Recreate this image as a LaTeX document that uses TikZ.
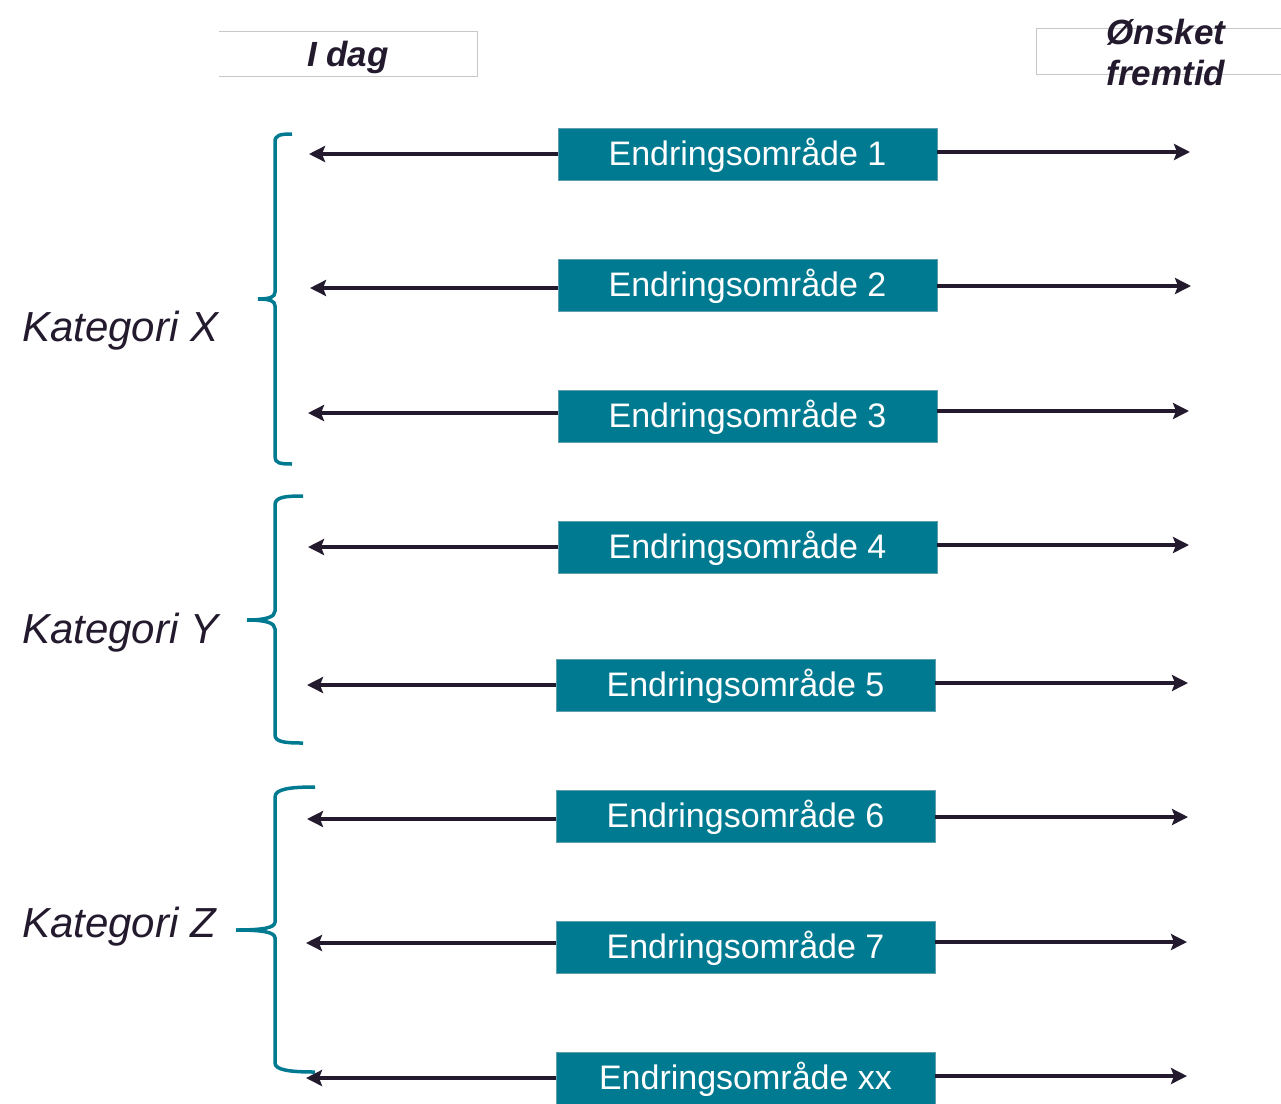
\documentclass[tikz,border=0pt]{standalone}
\usepackage{fontspec}
\setmainfont{Liberation Sans}
\usetikzlibrary{arrows.meta}
\definecolor{teal}{HTML}{007A90}
\definecolor{tealedge}{HTML}{5E9FAE}
\definecolor{dark}{HTML}{231A2E}
\definecolor{hdrgray}{HTML}{C8C8C8}
\tikzset{
  areabox/.style={fill=teal, draw=tealedge, line width=0.8pt, text=white,
    minimum width=379pt, minimum height=52pt, inner sep=0pt,
    text height=30pt, text depth=7pt,
    font=\fontsize{34}{40}\selectfont},
  conn/.style={draw=dark, line width=4.5pt,
    -{Stealth[length=16pt,width=16pt,inset=3pt]}},
  bracepath/.style={draw=teal, line width=3.5pt},
  katlabel/.style={anchor=base west, inner sep=0pt, text=dark,
    font=\fontsize{42}{50}\selectfont\itshape},
  hdrtext/.style={text=dark, inner sep=0pt, align=center,
    font=\fontsize{35}{41}\selectfont\bfseries\itshape},
  hdrframe/.style={draw=hdrgray, line width=0.8pt}
}
\begin{document}
\begin{tikzpicture}[x=1pt,y=-1pt]
\useasboundingbox (0,0) rectangle (1281,1103);

% headers
\draw[hdrframe] (219,31) -- (477,31) -- (477,76) -- (219,76);
\node[hdrtext] (idag) at (348,57) {I dag};
\draw[hdrframe] (1281,28) -- (1036,28) -- (1036,74) -- (1281,74);
\node[hdrtext] (fremtid) at (1166,52) {Ønsket\\fremtid};

% boxes
\node[areabox] (b1) at (747.5,154) {Endringsområde 1};
\node[areabox] (b2) at (747.5,285) {Endringsområde 2};
\node[areabox] (b3) at (747.5,416) {Endringsområde 3};
\node[areabox] (b4) at (747.5,547) {Endringsområde 4};
\node[areabox] (b5) at (745.5,685) {Endringsområde 5};
\node[areabox] (b6) at (745.5,816) {Endringsområde 6};
\node[areabox] (b7) at (745.5,947) {Endringsområde 7};
\node[areabox] (b8) at (745.5,1078) {Endringsområde xx};

% arrow tips
\coordinate (l1) at (309,154);  \coordinate (r1) at (1190,152);
\coordinate (l2) at (310,288);  \coordinate (r2) at (1191,286);
\coordinate (l3) at (308,413);  \coordinate (r3) at (1189,411);
\coordinate (l4) at (308,547);  \coordinate (r4) at (1189,545);
\coordinate (l5) at (307,685);  \coordinate (r5) at (1188,683);
\coordinate (l6) at (307,819);  \coordinate (r6) at (1188,817);
\coordinate (l7) at (306,943);  \coordinate (r7) at (1187,942);
\coordinate (l8) at (306,1078); \coordinate (r8) at (1187,1076);

\foreach \i in {1,...,8}{
  \draw[conn] (b\i.west |- l\i) -- (l\i);
  \draw[conn] (b\i.east |- r\i) -- (r\i);
}

% braces
\draw[bracepath] (292,134) .. controls (280,134) and (275,135) .. (275,142)
  -- (275,292) .. controls (275,297) and (270,299) .. (258,299);
\draw[bracepath] (258,299) .. controls (270,299) and (275,301) .. (275,306)
  -- (275,457) .. controls (275,463) and (280,464) .. (292,464);

\draw[bracepath] (303,496) .. controls (285,496) and (275,497) .. (275,505)
  -- (275,611) .. controls (275,617) and (266,620) .. (247,620);
\draw[bracepath] (247,620) .. controls (266,620) and (275,623) .. (275,629)
  -- (275,735) .. controls (275,742) and (285,743) .. (303,743);

\draw[bracepath] (315,787) .. controls (290,787) and (275,789) .. (275,797)
  -- (275,922) .. controls (275,928) and (262,930) .. (236,930);
\draw[bracepath] (236,930) .. controls (262,930) and (275,932) .. (275,938)
  -- (275,1063) .. controls (275,1070) and (290,1072) .. (315,1072);

% category labels
\node[katlabel] (katx) at (22,341) {Kategori X};
\node[katlabel] (katy) at (22,643) {Kategori Y};
\node[katlabel] (katz) at (22,937) {Kategori Z};
\end{tikzpicture}
\end{document}
